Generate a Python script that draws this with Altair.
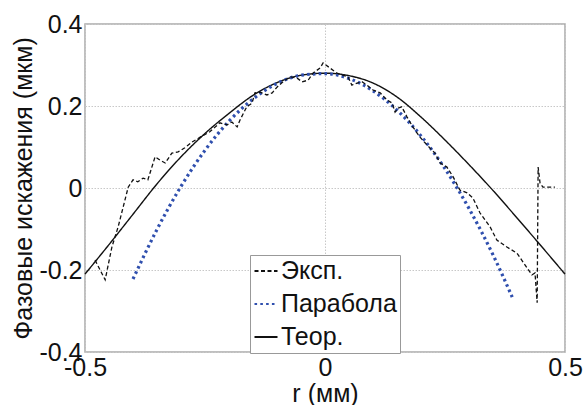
import altair as alt
import pandas as pd

series_names = ["Эксп.", "Парабола", "Теор."]
series_colors = ["#111111", "#2f4fae", "#111111"]
series_dash = [[4, 2.5], [2.6, 3.2], [1, 0]]

# Experimental (noisy) curve
exp_r = [-0.479, -0.458, -0.444, -0.431, -0.410, -0.400, -0.390, -0.379, -0.369, -0.354,
         -0.344, -0.333, -0.319, -0.306, -0.292, -0.277, -0.260, -0.240, -0.219, -0.204,
         -0.194, -0.183, -0.177, -0.163, -0.152, -0.146, -0.135, -0.121, -0.110, -0.100,
         -0.0875, -0.073, -0.058, -0.048, -0.035, -0.025, -0.010, -0.004, 0.010, 0.025,
         0.048, 0.056, 0.067, 0.077, 0.0875, 0.100, 0.115, 0.129, 0.140, 0.146,
         0.152, 0.160, 0.171, 0.183, 0.198, 0.2125, 0.229, 0.240, 0.254, 0.267,
         0.281, 0.296, 0.308, 0.323, 0.344, 0.358, 0.379, 0.400, 0.421, 0.431,
         0.4375, 0.442, 0.444, 0.448, 0.454, 0.479]
exp_v = [-0.176, -0.224, -0.144, -0.095, 0.002, 0.020, 0.015, 0.024, 0.020, 0.076,
         0.068, 0.061, 0.085, 0.088, 0.098, 0.112, 0.124, 0.137, 0.159, 0.154,
         0.161, 0.149, 0.166, 0.198, 0.207, 0.232, 0.234, 0.227, 0.232, 0.246,
         0.259, 0.271, 0.268, 0.259, 0.263, 0.280, 0.293, 0.305, 0.293, 0.280,
         0.271, 0.251, 0.256, 0.259, 0.251, 0.239, 0.232, 0.215, 0.207, 0.185,
         0.195, 0.198, 0.173, 0.149, 0.124, 0.105, 0.085, 0.061, 0.051, 0.027,
         -0.005, -0.012, -0.024, -0.061, -0.095, -0.127, -0.144, -0.159, -0.195, -0.212,
         -0.207, -0.280, 0.051, 0.012, 0.002, 0.002]

# Parabola fit (dotted blue)
par_r = [-0.40, -0.35, -0.30, -0.25, -0.20, -0.15, -0.10, -0.05, 0.0,
         0.05, 0.10, 0.15, 0.20, 0.25, 0.30, 0.35, 0.39]
par_v = [-0.222, -0.101, 0.004, 0.092, 0.163, 0.217, 0.255, 0.275, 0.279,
         0.267, 0.237, 0.190, 0.127, 0.047, -0.050, -0.163, -0.266]

# Theoretical curve (solid)
teor_r = [-0.50, -0.45, -0.40, -0.35, -0.30, -0.25, -0.20, -0.15, -0.10, -0.05, 0.0,
          0.05, 0.10, 0.15, 0.20, 0.25, 0.30, 0.35, 0.40, 0.45, 0.50]
teor_v = [-0.210, -0.138, -0.064, 0.010, 0.076, 0.133, 0.182, 0.226, 0.257, 0.275, 0.280,
          0.274, 0.256, 0.222, 0.173, 0.117, 0.057, -0.006, -0.073, -0.141, -0.210]

rows = []
for name, rs, vs in zip(series_names, [exp_r, par_r, teor_r], [exp_v, par_v, teor_v]):
    for i, (r, v) in enumerate(zip(rs, vs)):
        rows.append({"r": r, "v": v, "s": name, "i": i})
df = pd.DataFrame(rows)

FONT = "Liberation Sans"
legend = alt.Legend(
    title=None, orient="none", legendX=165, legendY=231,
    symbolType="stroke", symbolSize=529, symbolStrokeWidth=2.2,
    labelFontSize=25, labelFont=FONT, labelColor="#111",
    strokeColor="#999", fillColor="white",
    padding=3, rowPadding=7, labelOffset=2, labelLimit=300,
)

xs = alt.X("r:Q", scale=alt.Scale(domain=[-0.5, 0.5], nice=False),
           axis=alt.Axis(values=[-0.5, 0, 0.5], title="r (мм)", labelExpr="toString(datum.value)",
                         labelFlush=False, labelOverlap=False, labelPadding=3, titlePadding=1))
ys = alt.Y("v:Q", scale=alt.Scale(domain=[-0.4, 0.4], nice=False),
           axis=alt.Axis(values=[-0.4, -0.2, 0, 0.2, 0.4], title="Фазовые искажения (мкм)",
                         labelExpr="toString(datum.value)", labelFlush=False, labelOverlap=False,
                         labelPadding=3, titlePadding=2))
enc = dict(
    x=xs, y=ys,
    color=alt.Color("s:N", scale=alt.Scale(domain=series_names, range=series_colors), legend=legend),
    strokeDash=alt.StrokeDash("s:N", scale=alt.Scale(domain=series_names, range=series_dash), legend=legend),
    order="i:Q",
)

base = alt.Chart(df)
exp_layer = base.transform_filter(alt.datum.s == series_names[0]).mark_line(
    interpolate="linear", strokeWidth=1.3).encode(**enc)
par_layer = base.transform_filter(alt.datum.s == series_names[1]).mark_line(
    interpolate="monotone", strokeWidth=3.2).encode(**enc)
teor_layer = base.transform_filter(alt.datum.s == series_names[2]).mark_line(
    interpolate="monotone", strokeWidth=1.4).encode(**enc)

chart = alt.layer(teor_layer, par_layer, exp_layer).properties(
    width=480, height=328, autosize="none",
    padding={"left": 85, "top": 24, "right": 20, "bottom": 53},
).configure_axis(
    labelFont=FONT, labelFontSize=25, labelColor="#111",
    titleFont=FONT, titleFontSize=25, titleFontWeight="normal", titleColor="#111",
    tickSize=0, domain=False, gridColor="#c8c8c8", gridDash=[1.5, 1.5], gridWidth=1,
).configure_view(stroke="#aaaaaa", strokeWidth=1.5)

chart.save("out.html", embed_options={"renderer": "svg", "actions": False})
